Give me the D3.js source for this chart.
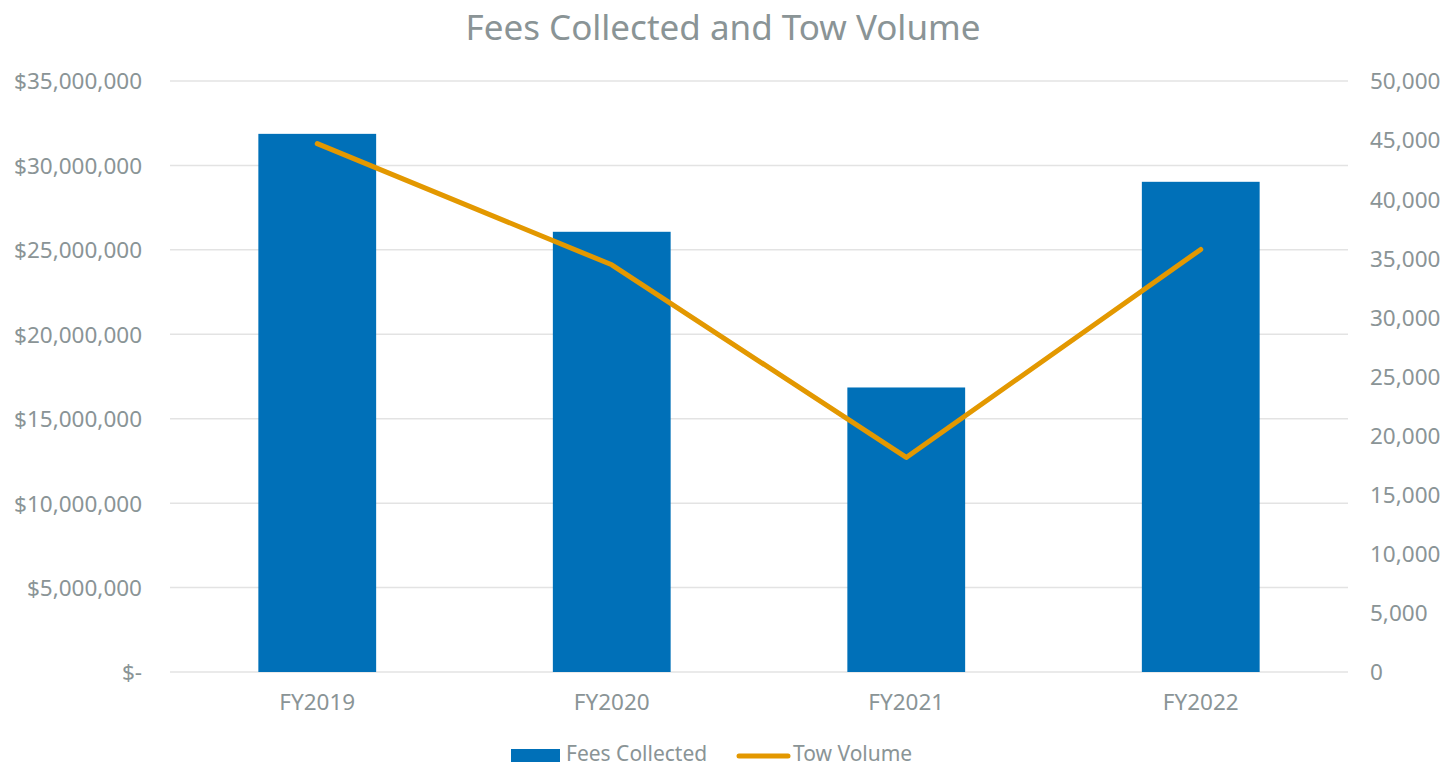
<!DOCTYPE html>
<html>
<head>
<meta charset="utf-8">
<script src="https://cdn.jsdelivr.net/npm/d3@7"></script>
<style>
  body { margin: 0; background: #fff; }
  text { font-family: "Noto Sans", "Open Sans", sans-serif; fill: #8a9496; }
</style>
</head>
<body>
<svg width="1447" height="767"></svg>
<script>
const years = ['FY2019', 'FY2020', 'FY2021', 'FY2022'];
const fees = [31870000, 26070000, 16850000, 29030000];
const tows = [44700, 34450, 18150, 35750];
const feeTicks = [0, 5e6, 10e6, 15e6, 20e6, 25e6, 30e6, 35e6];
const towTicks = [0, 5000, 10000, 15000, 20000, 25000, 30000, 35000, 40000, 45000, 50000];

const svg = d3.select('svg');
const plotL = 170, plotR = 1348, plotT = 81, plotB = 672;

var x = d3.scaleBand()
    .domain(years)
    .range([plotL, plotR])
    .paddingInner(0.6)
    .paddingOuter(0.3);

var yL = d3.scaleLinear().domain([0, 35e6]).range([plotB, plotT]);
var yR = d3.scaleLinear().domain([0, 50000]).range([plotB, plotT]);

const money = d3.format(',');

// gridlines
svg.append('g')
    .selectAll('line')
    .data(feeTicks)
    .enter()
    .append('line')
        .attr('x1', plotL)
        .attr('x2', plotR)
        .attr('y1', d => yL(d))
        .attr('y2', d => yL(d))
        .attr('stroke', '#e3e3e3')
        .attr('stroke-width', 1.5);

// left axis
svg.append('g')
    .attr('transform', `translate(${plotL - 28},0)`)
    .call(d3.axisLeft(yL).tickValues(feeTicks).tickSize(0).tickPadding(0)
        .tickFormat(d => d === 0 ? '$-' : '$' + money(d)))
    .call(g => g.select('.domain').remove())
    .selectAll('text')
        .style('font-size', '22.5px')
        .attr('dy', '0.35em');

// right axis
svg.append('g')
    .attr('transform', `translate(${plotR + 22},0)`)
    .call(d3.axisRight(yR).tickValues(towTicks).tickSize(0).tickPadding(0)
        .tickFormat(d3.format(',')))
    .call(g => g.select('.domain').remove())
    .selectAll('text')
        .style('font-size', '22.5px')
        .attr('dy', '0.35em');

// x axis labels
svg.append('g')
    .attr('transform', `translate(0,${plotB + 17})`)
    .call(d3.axisBottom(x).tickSize(0).tickPadding(0))
    .call(g => g.select('.domain').remove())
    .selectAll('text')
        .style('font-size', '22.5px')
        .attr('dy', '0.95em');

// bars
svg.append('g')
    .selectAll('rect')
    .data(years)
    .enter()
    .append('rect')
        .attr('x', d => x(d))
        .attr('width', x.bandwidth())
        .attr('y', (d, i) => yL(fees[i]))
        .attr('height', (d, i) => plotB - yL(fees[i]))
        .attr('fill', '#0070b8');

// line
const line = d3.line()
    .x((d, i) => x(years[i]) + x.bandwidth() / 2)
    .y(d => yR(d));

svg.append('path')
    .datum(tows)
    .attr('d', line)
    .attr('fill', 'none')
    .attr('stroke', '#e39800')
    .attr('stroke-width', 5)
    .attr('stroke-linecap', 'round')
    .attr('stroke-linejoin', 'round');

// title
svg.append('text')
    .attr('x', 723)
    .attr('y', 40)
    .attr('text-anchor', 'middle')
    .style('font-size', '35px')
    .text('Fees Collected and Tow Volume');

// legend
const legend = svg.append('g');
legend.append('rect')
    .attr('x', 511).attr('y', 749).attr('width', 49).attr('height', 13)
    .attr('fill', '#0070b8');
legend.append('text')
    .attr('x', 566).attr('y', 761)
    .style('font-size', '21px')
    .text('Fees Collected');
legend.append('line')
    .attr('x1', 739).attr('x2', 788).attr('y1', 756).attr('y2', 756)
    .attr('stroke', '#e39800').attr('stroke-width', 5).attr('stroke-linecap', 'round');
legend.append('text')
    .attr('x', 793).attr('y', 761)
    .style('font-size', '21px')
    .text('Tow Volume');
</script>
</body>
</html>
